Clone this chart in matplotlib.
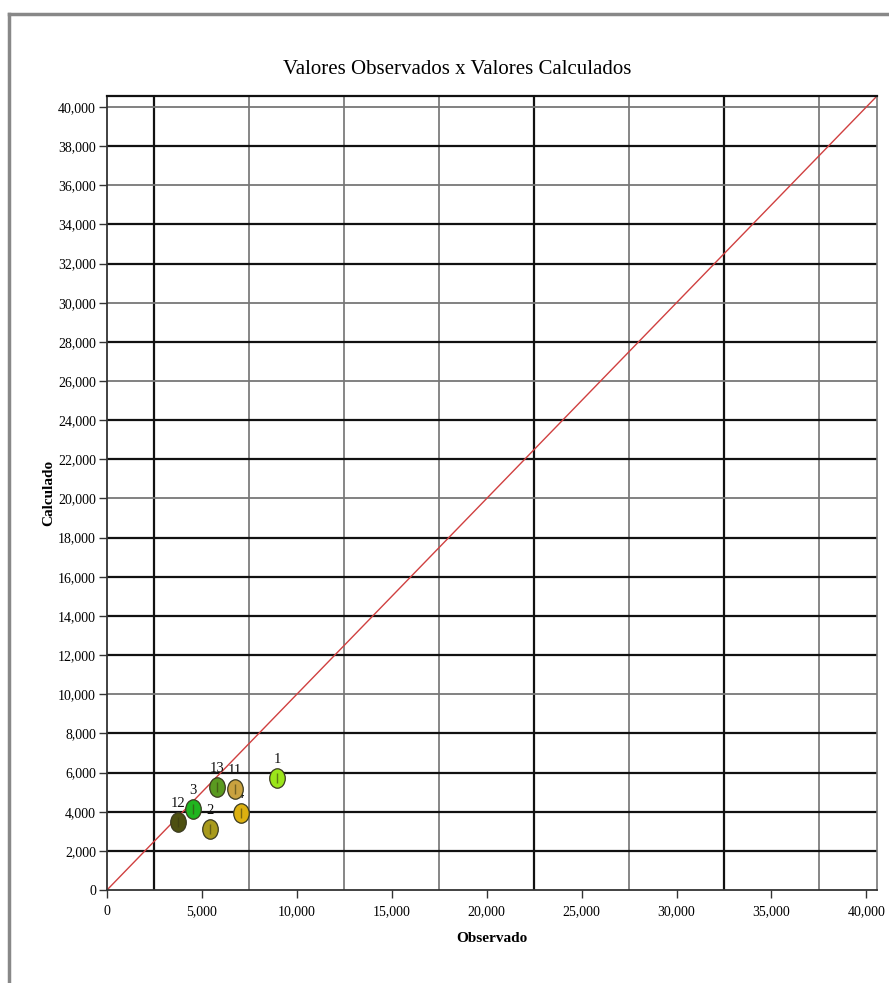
import matplotlib
matplotlib.use("Agg")
import matplotlib.pyplot as plt
from matplotlib.lines import Line2D
from matplotlib.path import Path
from matplotlib.ticker import FuncFormatter
import numpy as np

# ---- data ----
labels = ["1", "2", "3", "4", "11", "12", "13"]
observado = [8950, 5430, 4550, 7040, 6740, 3760, 5780]
calculado = [5720, 3100, 4120, 3940, 5140, 3490, 5280]
colors = ["#9be51a", "#a89a1c", "#1fb51f", "#dcb010", "#c9a23f", "#4d5010", "#5a9a20"]
axis_max = 40560
x_ticks = list(range(0, 40001, 5000))
y_ticks = list(range(0, 40001, 2000))
x_grid = list(range(2500, 40000, 5000))
x_grid_dark = [2500, 22500, 32500]
y_grid_light = [10000, 20000, 26000, 30000, 36000, 40000]

title = "Valores Observados x Valores Calculados"
xlabel = "Observado"
ylabel = "Calculado"

plt.rcParams['font.family'] = ['Liberation Serif', 'DejaVu Serif']

fig = plt.figure(figsize=(8.89, 9.83), dpi=100)
ax = fig.add_axes([107/889, 1-890/983, 770/889, 794/983])

ax.set_xlim(0, axis_max)
ax.set_ylim(0, axis_max)

# grid lines
for gx in x_grid:
    if gx in x_grid_dark:
        ax.axvline(gx, color="#111111", lw=1.6, zorder=1)
    else:
        ax.axvline(gx, color="#666666", lw=1.1, zorder=1)
for gy in y_ticks[1:]:
    if gy in y_grid_light:
        ax.axhline(gy, color="#777777", lw=1.3, zorder=1)
    else:
        ax.axhline(gy, color="#111111", lw=1.6, zorder=1)

# identity line
ax.plot([0, axis_max], [0, axis_max], color="#d04040", lw=1.0, zorder=2)

# ellipse-like marker
circ = Path.unit_circle()
verts = circ.vertices * np.array([0.8, 1.0])
emarker = Path(verts, circ.codes)

order = [0, 1, 2, 3, 4, 5, 6]
for i in order:
    x, y, c, lab = observado[i], calculado[i], colors[i], labels[i]
    z = 5 if lab != "4" else 4
    ax.text(x, y + 620, lab, ha="center", va="bottom", fontsize=10.5,
            color="#111111", zorder=z)
for i in order:
    x, y, c, lab = observado[i], calculado[i], colors[i], labels[i]
    z = 6 if lab == "11" else 5
    if lab == "4":
        z = 3.5
    ax.plot([x], [y], marker=emarker, markersize=14, color=c,
            markeredgecolor="#3a3a20", markeredgewidth=0.9, zorder=z,
            linestyle="none")
    ax.plot([x], [y], marker="|", markersize=7, color="#3a3a10",
            alpha=0.6, markeredgewidth=1.0, zorder=z + 0.01, linestyle="none")

ax.set_xticks(x_ticks)
ax.set_yticks(y_ticks)
fmt = FuncFormatter(lambda v, p: f"{int(v):,}")
ax.xaxis.set_major_formatter(fmt)
ax.yaxis.set_major_formatter(fmt)
ax.tick_params(axis="both", direction="out", length=6, width=1.0,
               color="#333333", labelsize=10)
ax.tick_params(axis="x", pad=5)
ax.tick_params(axis="y", pad=2)

for s in ["left", "bottom"]:
    ax.spines[s].set_color("#333333")
    ax.spines[s].set_linewidth(1.3)
ax.spines["top"].set_color("#111111")
ax.spines["top"].set_linewidth(1.6)
ax.spines["right"].set_color("#777777")
ax.spines["right"].set_linewidth(1.2)

ax.set_xlabel(xlabel, fontsize=11, fontweight="bold", labelpad=10)
ax.set_ylabel(ylabel, fontsize=11, fontweight="bold", labelpad=2)

fig.text(457/889, 1-70/983, title, ha="center", va="center", fontsize=15)

# outer frame lines
fig.add_artist(Line2D([9/889, 9/889], [0, 1-14/983], color="#888888", lw=2.5,
                      transform=fig.transFigure))
fig.add_artist(Line2D([9/889, 1], [1-14/983, 1-14/983], color="#888888", lw=2.5,
                      transform=fig.transFigure))

fig.savefig("out.png", dpi=100)
